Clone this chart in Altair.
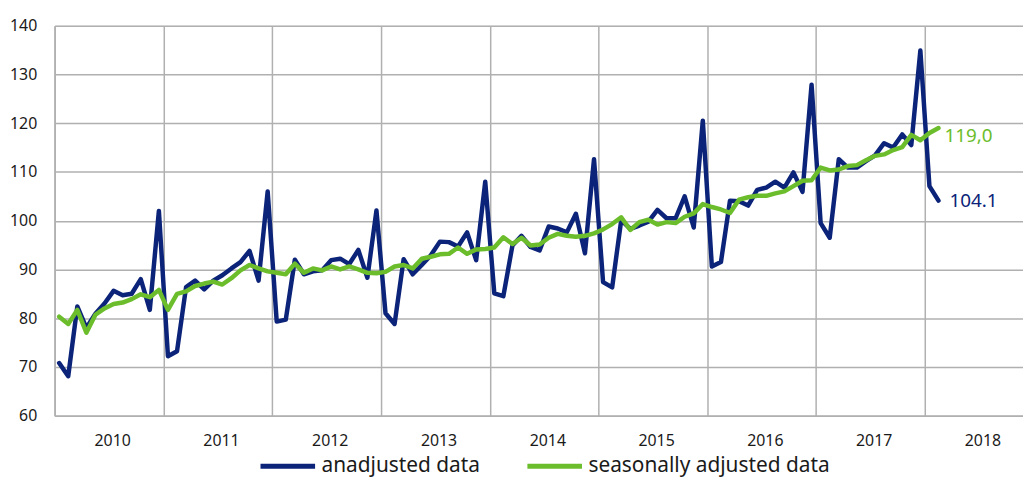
import altair as alt
import pandas as pd

years = list(range(2010, 2019))
months_per_year = 12

unadjusted = [
    70.8, 68.1, 82.4, 78.0, 80.9, 83.0, 85.6, 84.7, 85.0, 88.0, 81.7, 102.0,
    72.2, 73.2, 86.4, 87.7, 85.9, 87.7, 88.8, 90.2, 91.5, 93.8, 87.7, 106.0,
    79.3, 79.7, 92.0, 89.0, 89.6, 89.8, 91.9, 92.2, 91.1, 94.0, 88.3, 102.1,
    81.0, 78.8, 92.1, 89.0, 90.9, 92.9, 95.7, 95.6, 94.7, 97.6, 91.9, 108.0,
    85.1, 84.5, 94.9, 96.9, 94.6, 93.9, 98.8, 98.4, 97.6, 101.4, 93.3, 112.6,
    87.4, 86.3, 100.1, 98.3, 99.0, 99.8, 102.2, 100.5, 100.5, 105.0, 98.6, 120.5,
    90.6, 91.5, 104.1, 104.0, 103.1, 106.3, 106.8, 108.0, 106.8, 109.9, 105.9, 127.9,
    99.5, 96.5, 112.6, 110.9, 110.9, 112.2, 113.4, 115.9, 115.0, 117.7, 115.5, 134.9,
    107.1, 104.1,
]

seasonally_adjusted = [
    80.3, 78.8, 81.7, 77.0, 80.7, 82.0, 82.9, 83.2, 83.9, 84.9, 84.3, 85.8,
    81.7, 85.0, 85.5, 86.6, 87.1, 87.5, 86.9, 88.2, 89.8, 90.9, 90.2, 89.6,
    89.3, 89.0, 91.2, 89.3, 90.2, 89.8, 90.6, 90.0, 90.6, 90.0, 89.3, 89.2,
    89.5, 90.6, 90.9, 90.2, 92.2, 92.6, 93.1, 93.2, 94.5, 93.2, 94.1, 94.2,
    94.5, 96.6, 95.2, 96.5, 94.9, 95.1, 96.5, 97.3, 96.9, 96.7, 96.9, 97.4,
    98.2, 99.3, 100.7, 98.1, 99.7, 100.2, 99.2, 99.7, 99.5, 100.8, 101.5, 103.4,
    102.8, 102.3, 101.6, 104.3, 104.8, 105.1, 105.1, 105.6, 106.0, 107.1, 108.2, 108.3,
    110.9, 110.3, 110.5, 111.2, 111.4, 112.4, 113.3, 113.6, 114.5, 115.1, 117.6, 116.5,
    118.0, 119.0,
]

series_names = ["anadjusted data", "seasonally adjusted data"]
series_colors = ["#0b2378", "#6cbd2c"]
end_labels = ["104.1", "119,0"]
y_ticks = [60, 70, 80, 90, 100, 110, 120, 130, 140]

rows = []
for name, vals in zip(series_names, [unadjusted, seasonally_adjusted]):
    for i, v in enumerate(vals):
        t = years[0] + (i + 0.5) / months_per_year
        rows.append({"t": t, "value": v, "series": name})
df = pd.DataFrame(rows)

last = pd.DataFrame({
    "t": [years[0] + (len(unadjusted) - 0.5) / 12] * 2,
    "value": [unadjusted[-1], seasonally_adjusted[-1]],
    "series": series_names,
    "label": end_labels,
})

FONT = "Noto Sans"
VIEW_W = 976
VIEW_H = 393
X_END = 2010 + VIEW_W / 109.64

x_enc = alt.X(
    "t:Q",
    scale=alt.Scale(domain=[2010, X_END], nice=False, zero=False),
    axis=alt.Axis(
        values=years,
        format="d",
        title=None,
        ticks=False,
        labelOffset=58,
        labelPadding=17,
        labelFontSize=16,
        labelFont=FONT,
        labelColor="#1a1a1a",
        labelOverlap=False,
        labelFlush=False,
        labelBound=False,
        grid=True,
        gridColor="#b0b0b0",
        gridWidth=1.5,
        domainColor="#b0b0b0",
        domainWidth=1.5,
    ),
)
y_enc = alt.Y(
    "value:Q",
    scale=alt.Scale(domain=[60, 140], nice=False, zero=False),
    axis=alt.Axis(
        values=y_ticks,
        title=None,
        ticks=False,
        labelPadding=18,
        labelFontSize=16,
        labelFont=FONT,
        labelColor="#1a1a1a",
        grid=True,
        gridColor="#b0b0b0",
        gridWidth=1.5,
        domainColor="#b0b0b0",
        domainWidth=1.5,
    ),
)

color_enc = alt.Color(
    "series:N",
    scale=alt.Scale(domain=series_names, range=series_colors),
    legend=alt.Legend(
        title=None,
        orient="none",
        legendX=205,
        legendY=414,
        direction="horizontal",
        symbolType="stroke",
        symbolSize=3025,
        symbolStrokeWidth=5,
        labelFontSize=21,
        labelFont=FONT,
        labelColor="#1a1a1a",
        labelOffset=4,
        labelLimit=400,
        columnPadding=37,
    ),
)

lines = alt.Chart(df).mark_line(
    strokeWidth=4.5, strokeJoin="round", strokeCap="round"
).encode(x=x_enc, y=y_enc, color=color_enc, order="t:Q")

lab_blue = alt.Chart(last[last["series"] == series_names[0]]).mark_text(
    align="left", baseline="middle", dx=11, dy=0, fontSize=19, font=FONT,
    color=series_colors[0],
).encode(x="t:Q", y="value:Q", text="label:N")

lab_green = alt.Chart(last[last["series"] == series_names[1]]).mark_text(
    align="left", baseline="middle", dx=6, dy=8, fontSize=19, font=FONT,
    color=series_colors[1],
).encode(x="t:Q", y="value:Q", text="label:N")

chart = alt.layer(lines, lab_blue, lab_green).properties(
    width=VIEW_W,
    height=VIEW_H,
    autosize=alt.AutoSizeParams(type="none"),
    padding={"left": 47, "top": 16, "right": 0, "bottom": 61},
).configure_view(stroke=None).configure(background="white")

chart.save("out.html", embed_options={"renderer": "svg", "actions": False})
